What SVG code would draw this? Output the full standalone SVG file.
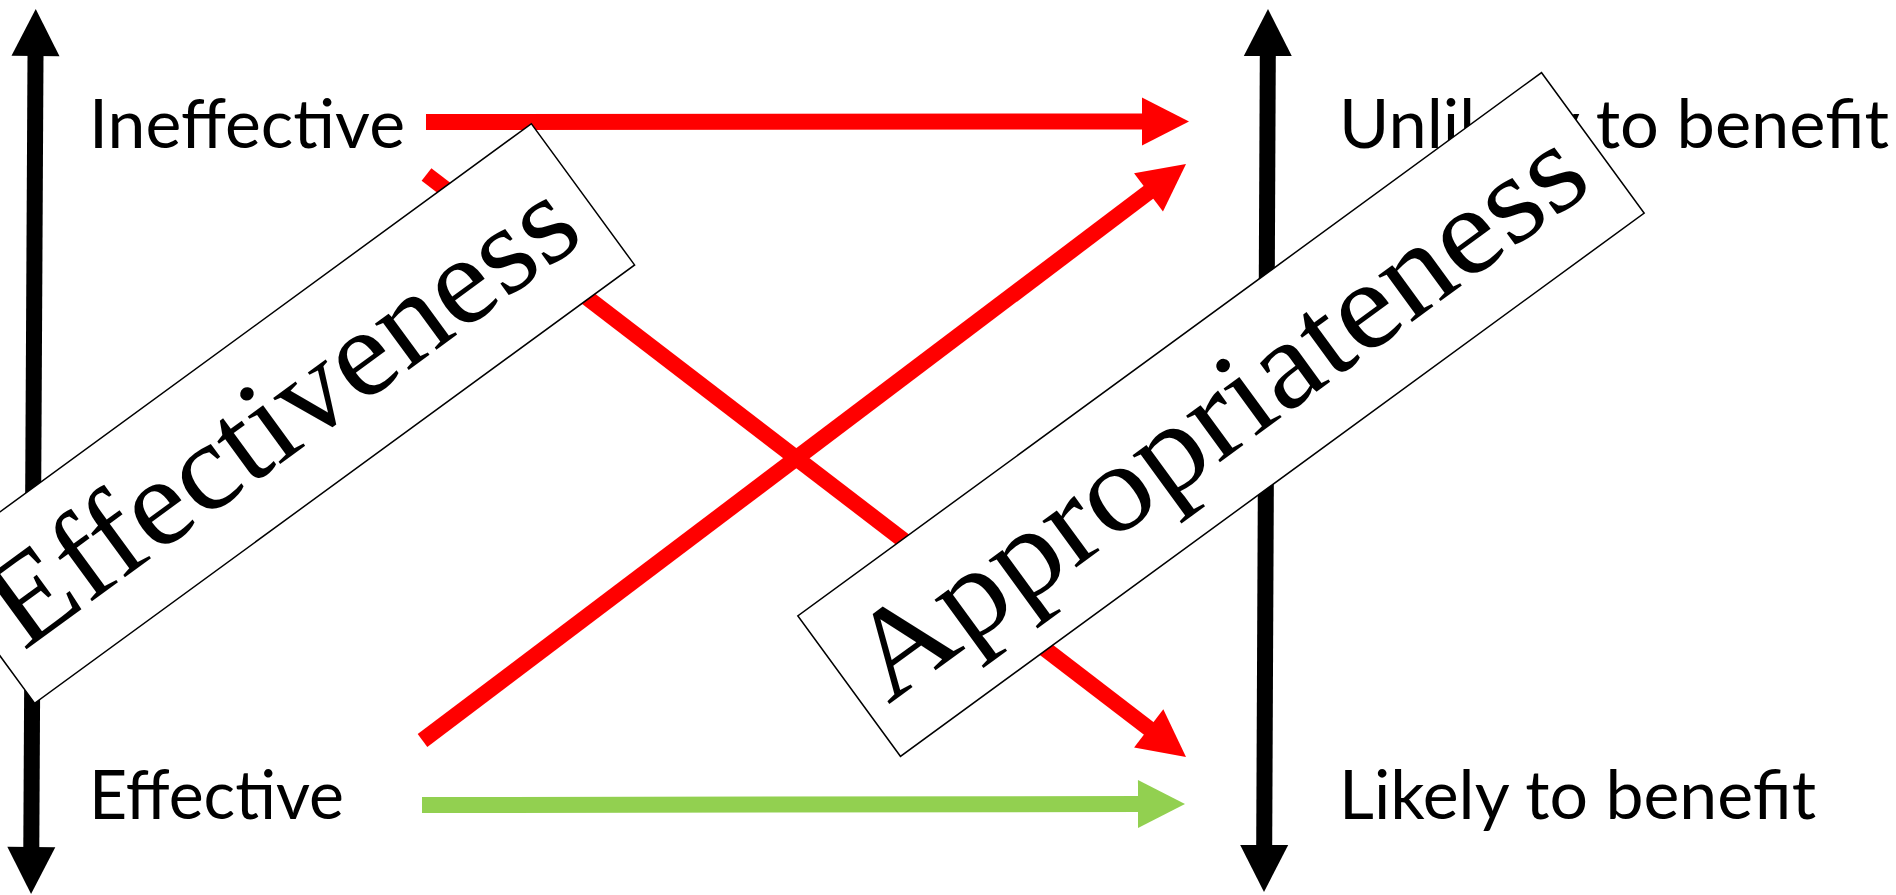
<svg xmlns="http://www.w3.org/2000/svg" width="1896" height="895" viewBox="0 0 1896 895">
  <style>
    .axis { stroke: #000000; stroke-width: 16; fill: none; }
    .red { stroke: #FF0000; stroke-width: 16; fill: none; }
    .green { stroke: #92D050; stroke-width: 16; fill: none; }
    .label { font-family: Lato, "Liberation Sans", sans-serif; font-size: 68px; fill: #000000; }
    .box { fill: #FFFFFF; stroke: #000000; stroke-width: 1.5; }
    .big { font-family: "Liberation Serif", "Times New Roman", serif; font-size: 125px; fill: #000000; }
  </style>
  <defs>
    <marker id="ah-black" markerUnits="userSpaceOnUse" markerWidth="47" markerHeight="48" viewBox="0 -24 47 48" refX="1" refY="0" orient="auto-start-reverse" overflow="visible">
      <path d="M0,-24 L47,0 L0,24 z" fill="#000000"/>
    </marker>
    <marker id="ah-red" markerUnits="userSpaceOnUse" markerWidth="47" markerHeight="48" viewBox="0 -24 47 48" refX="1" refY="0" orient="auto" overflow="visible">
      <path d="M0,-24 L47,0 L0,24 z" fill="#FF0000"/>
    </marker>
    <marker id="ah-green" markerUnits="userSpaceOnUse" markerWidth="47" markerHeight="48" viewBox="0 -24 47 48" refX="1" refY="0" orient="auto" overflow="visible">
      <path d="M0,-24 L47,0 L0,24 z" fill="#92D050"/>
    </marker>
  </defs>
  <rect x="0" y="0" width="1896" height="895" fill="#FFFFFF"/>

  <g id="connectors">
    <line id="axis-left" class="axis" x1="35.5" y1="55" x2="31.3" y2="848" marker-start="url(#ah-black)" marker-end="url(#ah-black)"/>
    <line id="axis-right" class="axis" x1="1267.8" y1="55" x2="1264.2" y2="846" marker-start="url(#ah-black)" marker-end="url(#ah-black)"/>
    <line id="ineffective-unlikely" class="red" x1="426" y1="122" x2="1143" y2="121.5" marker-end="url(#ah-red)"/>
    <line id="ineffective-likely" class="red" x1="426.5" y1="174.5" x2="1149.5" y2="729" marker-end="url(#ah-red)"/>
    <line id="effective-unlikely" class="red" x1="422.5" y1="740.5" x2="1149.3" y2="191.7" marker-end="url(#ah-red)"/>
    <line id="effective-likely" class="green" x1="422" y1="805" x2="1139" y2="804" marker-end="url(#ah-green)"/>
  </g>

  <g id="ineffective">
    <text class="label" x="89" y="148" textLength="316" lengthAdjust="spacingAndGlyphs">Ineffective</text>
  </g>
  <g id="effective">
    <text class="label" x="89" y="819" textLength="255" lengthAdjust="spacingAndGlyphs">Effective</text>
  </g>
  <g id="unlikely">
    <text class="label" x="1339" y="148" textLength="550" lengthAdjust="spacingAndGlyphs">Unlikely to benefit</text>
  </g>
  <g id="likely">
    <text class="label" x="1339" y="819" textLength="477" lengthAdjust="spacingAndGlyphs">Likely to benefit</text>
  </g>

  <g id="effectiveness" transform="translate(283,413.5) rotate(-36.15)">
    <rect class="box" x="-371.5" y="-87.5" width="743" height="175"/>
    <text class="big" x="-350" y="39" textLength="698" lengthAdjust="spacingAndGlyphs">Effectiveness</text>
  </g>

  <g id="appropriateness" transform="translate(1221,414.5) rotate(-36.15)">
    <rect class="box" x="-460.5" y="-87" width="921" height="174"/>
    <text class="big" x="-440" y="38" textLength="876" lengthAdjust="spacingAndGlyphs">Appropriateness</text>
  </g>
</svg>
